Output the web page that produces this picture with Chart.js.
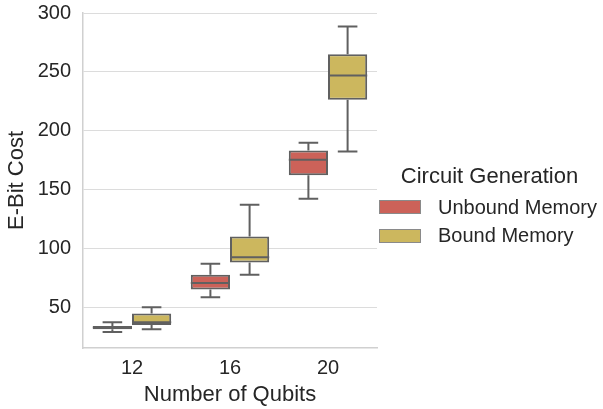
<!DOCTYPE html>
<html>
<head>
<meta charset="utf-8">
<script src="https://cdn.jsdelivr.net/npm/chart.js@4.4.1/dist/chart.umd.min.js"></script>
<style>
    body { margin: 0; background: #fff; font-family: 'Liberation Sans', Arial, sans-serif; color: #262626; }
    #wrap { position: relative; width: 603px; height: 409px; }
    .legend-title { position: absolute; left: 379px; width: 221px; top: 163px; text-align: center; font-size: 22px; line-height: 26px; }
    .legend-item { position: absolute; left: 379px; font-size: 20px; line-height: 24px; }
    .legend-item span.sw { position: absolute; left: 0; width: 40px; height: 12px; border: 1px solid #8a8a8a; }
    .legend-item span.txt { position: absolute; left: 59px; white-space: nowrap; }
</style>
</head>
<body>
<div id="wrap">
    <canvas id="boxChart" width="603" height="409"></canvas>
    <div class="legend-title">Circuit Generation</div>
    <div class="legend-item" style="top:195px"><span class="sw" style="top:5px;background:#cc6259"></span><span class="txt">Unbound Memory</span></div>
    <div class="legend-item" style="top:223px"><span class="sw" style="top:6px;background:#ccb75e"></span><span class="txt">Bound Memory</span></div>
</div>
<script>
// data

const categories = ['12', '16', '20'];

const unboundMin = [29.5, 59, 142.5];
const unboundQ1 = [32, 65.5, 162.5];
const unboundMed = [33.3, 71, 175.5];
const unboundQ3 = [34.7, 78, 183.5];
const unboundMax = [37.8, 87.5, 190];

const boundMin = [32, 78, 182.5];
const boundQ1 = [35.5, 88.5, 226.5];
const boundMed = [37.8, 93, 247];
const boundQ3 = [45.2, 110.5, 265];
const boundMax = [50.5, 137.5, 288.5];

const yTicks = [50, 100, 150, 200, 250, 300];

const lineColor = '#606060';

const stats = [
    { min: unboundMin, q1: unboundQ1, med: unboundMed, q3: unboundQ3, max: unboundMax },
    { min: boundMin, q1: boundQ1, med: boundMed, q3: boundQ3, max: boundMax },
];

// whiskers, caps and medians on top of the floating bars
const whiskers = {
    id: 'whiskers',
    afterDatasetsDraw(chart) {
        const ctx = chart.ctx;
        const y = chart.scales.y;
        ctx.save();
        ctx.strokeStyle = lineColor;
        ctx.lineWidth = 2;
        stats.forEach((s, di) => {
            const meta = chart.getDatasetMeta(di);
            meta.data.forEach((bar, i) => {
                const cx = bar.x;
                const half = bar.width / 2;
                const yMin = y.getPixelForValue(s.min[i]);
                const yQ1 = y.getPixelForValue(s.q1[i]);
                const yMed = y.getPixelForValue(s.med[i]);
                const yQ3 = y.getPixelForValue(s.q3[i]);
                const yMax = y.getPixelForValue(s.max[i]);

                ctx.beginPath();
                ctx.moveTo(cx, yQ3);
                ctx.lineTo(cx, yMax);
                ctx.moveTo(cx, yQ1);
                ctx.lineTo(cx, yMin);
                ctx.moveTo(cx - half / 2, yMax);
                ctx.lineTo(cx + half / 2, yMax);
                ctx.moveTo(cx - half / 2, yMin);
                ctx.lineTo(cx + half / 2, yMin);
                ctx.moveTo(cx - half, yMed);
                ctx.lineTo(cx + half, yMed);
                ctx.stroke();
            });
        });
        ctx.restore();
    }
};

const boxChart = document.getElementById('boxChart');

const chart = new Chart(boxChart, {
    type: 'bar',
    data: {
        labels: categories,
        datasets: [
            {
                label: 'Unbound Memory',
                data: unboundQ1.map((q, i) => [q, unboundQ3[i]]),
                backgroundColor: '#cc6259',
                borderColor: lineColor,
                borderWidth: 2,
                borderSkipped: false,
            },
            {
                label: 'Bound Memory',
                data: boundQ1.map((q, i) => [q, boundQ3[i]]),
                backgroundColor: '#ccb75e',
                borderColor: lineColor,
                borderWidth: 2,
                borderSkipped: false,
            },
        ],
    },
    options: {
        responsive: false,
        animation: false,
        layout: { padding: { top: 0, right: 226, left: 0, bottom: 0 } },
        datasets: { bar: { categoryPercentage: 0.8, barPercentage: 1.0 } },
        plugins: {
            legend: { display: false },
            tooltip: { enabled: false },
        },
        scales: {
            x: {
                grid: { display: false, drawTicks: false },
                border: { display: true, color: '#d0d0d0', width: 1.5 },
                ticks: { color: '#262626', font: { family: 'Liberation Sans', size: 20 }, padding: 8 },
                title: {
                    display: true,
                    text: 'Number of Qubits',
                    color: '#262626',
                    font: { family: 'Liberation Sans', size: 22 },
                    padding: { top: 0, bottom: 1 },
                },
                afterFit: scale => { scale.height = 61; },
            },
            y: {
                min: 16,
                max: 300,
                grid: { color: '#dcdcdc', lineWidth: 1, drawTicks: false },
                border: { display: true, color: '#d0d0d0', width: 1.5 },
                ticks: { color: '#262626', font: { family: 'Liberation Sans', size: 20 }, padding: 12 },
                afterBuildTicks: scale => {
                    scale.ticks = yTicks.map(v => ({ value: v }));
                },
                title: {
                    display: true,
                    text: 'E-Bit Cost',
                    color: '#262626',
                    font: { family: 'Liberation Sans', size: 22 },
                    padding: { top: 4, bottom: 0 },
                },
                afterFit: scale => {
                    scale.width = 83;
                    scale.paddingTop = 13;
                    scale.paddingBottom = 0;
                },
            },
        },
    },
    plugins: [whiskers],
});
</script>
</body>
</html>
